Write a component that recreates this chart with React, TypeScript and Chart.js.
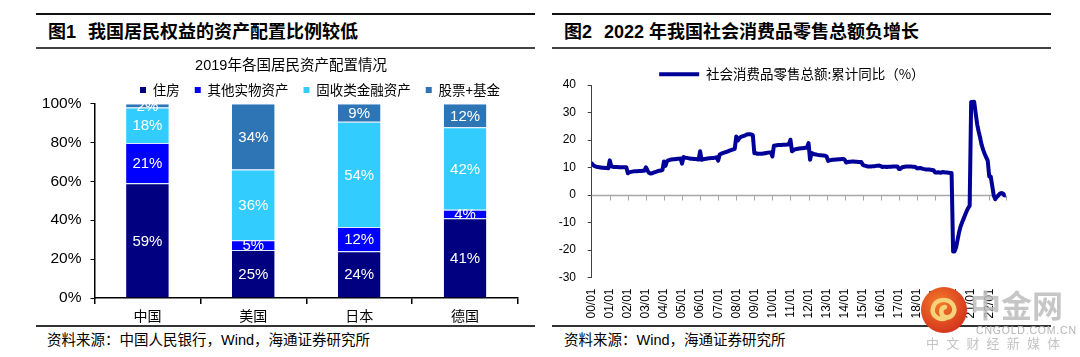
import React, { useEffect, useRef } from "react";
import { Chart, registerables } from "chart.js";

Chart.register(...registerables);

const LATIN = "'Liberation Sans', 'Noto Sans CJK SC', sans-serif";
const CJK = "'Noto Sans CJK SC', 'Liberation Sans', sans-serif";

// ---------- Figure 1 data ----------
const countries = ["中国", "美国", "日本", "德国"];
const assetNames = ["住房", "其他实物资产", "固收类金融资产", "股票+基金"];
const housing = [59.0, 24.7, 24.1, 41.0];
const otherPhysical = [20.7, 5.0, 12.4, 4.4];
const fixedIncome = [18.2, 36.4, 54.1, 42.4];
const equityFunds = [2.1, 33.9, 9.4, 12.2];
const assetColors = ["#000080", "#0000FF", "#33CCFF", "#2E75B6"];

// ---------- Figure 2 data (monthly cumulative YoY, %) ----------
const yearLabels = [
  "00/01", "01/01", "02/01", "03/01", "04/01", "05/01", "06/01", "07/01",
  "08/01", "09/01", "10/01", "11/01", "12/01", "13/01", "14/01", "15/01",
  "16/01", "17/01", "18/01", "19/01", "20/01", "21/01", "22/01",
];
const retail2000 = [11.5, 10.9, 10.5, 10.3, 10.2, 10.1, 10.0, 9.9, 9.9, 9.8, 9.8, 9.7];
const retail2001 = [12.6, 10.4, 10.3, 10.2, 10.2, 10.2, 10.1, 10.1, 10.1, 10.1, 10.1, 10.1];
const retail2002 = [7.9, 8.3, 8.4, 8.5, 8.6, 8.6, 8.6, 8.7, 8.7, 8.7, 8.8, 8.8];
const retail2003 = [10.1, 9.0, 8.1, 7.8, 7.9, 8.1, 8.3, 8.5, 8.7, 8.8, 8.9, 9.1];
const retail2004 = [12.2, 10.6, 12.3, 12.6, 12.8, 12.9, 13.0, 13.0, 13.1, 13.2, 13.2, 13.3];
const retail2005 = [11.4, 13.8, 13.6, 13.5, 13.4, 13.3, 13.2, 13.2, 13.1, 13.1, 13.0, 12.9];
const retail2006 = [15.9, 12.8, 13.0, 13.1, 13.2, 13.3, 13.4, 13.4, 13.5, 13.5, 13.6, 13.7];
const retail2007 = [12.5, 14.7, 15.0, 15.2, 15.4, 15.6, 15.8, 16.0, 16.2, 16.4, 16.6, 16.8];
const retail2008 = [21.3, 19.8, 20.6, 21.1, 21.3, 21.5, 21.7, 22.0, 22.1, 22.1, 22.0, 21.8];
const retail2009 = [15.2, 15.2, 15.0, 15.0, 15.0, 15.0, 15.1, 15.2, 15.3, 15.4, 15.5, 15.5];
const retail2010 = [14.0, 17.9, 18.0, 18.1, 18.2, 18.2, 18.2, 18.3, 18.3, 18.3, 18.4, 18.4];
const retail2011 = [20.1, 15.9, 16.3, 16.6, 16.7, 16.8, 16.9, 17.0, 17.0, 17.1, 17.2, 17.3];
const retail2012 = [18.9, 12.8, 15.3, 15.0, 14.8, 14.7, 14.6, 14.5, 14.5, 14.4, 14.4, 14.3];
const retail2013 = [14.0, 12.4, 12.6, 12.7, 12.8, 12.8, 12.9, 12.9, 13.0, 13.0, 13.1, 13.1];
const retail2014 = [12.9, 11.8, 12.0, 12.1, 12.1, 12.2, 12.2, 12.1, 12.1, 12.0, 12.0, 12.0];
const retail2015 = [11.0, 10.7, 10.6, 10.4, 10.4, 10.4, 10.4, 10.5, 10.5, 10.6, 10.6, 10.7];
const retail2016 = [10.5, 10.2, 10.3, 10.3, 10.2, 10.3, 10.3, 10.3, 10.4, 10.4, 10.4, 10.4];
const retail2017 = [9.5, 9.5, 10.0, 10.2, 10.3, 10.4, 10.4, 10.4, 10.4, 10.3, 10.3, 10.2];
const retail2018 = [9.7, 9.7, 9.8, 9.7, 9.5, 9.4, 9.3, 9.3, 9.3, 9.2, 9.1, 9.0];
const retail2019 = [8.2, 8.2, 8.3, 8.2, 8.1, 8.4, 8.3, 8.2, 8.2, 8.1, 8.0, 8.0];
const retail2020 = [-20.5, -20.5, -19.0, -16.2, -13.5, -11.4, -9.9, -8.6, -7.2, -5.9, -4.8, -3.9];
const retail2021 = [33.8, 33.8, 33.9, 29.6, 25.7, 23.0, 20.7, 18.1, 16.4, 14.9, 13.7, 12.5];
const retail2022 = [6.7, 6.7, 3.3, -0.2, -1.5, -0.7, -0.2, 0.5, 0.7, 0.6, -0.1, -0.2];
const retailYears = [
  retail2000, retail2001, retail2002, retail2003, retail2004, retail2005,
  retail2006, retail2007, retail2008, retail2009, retail2010, retail2011,
  retail2012, retail2013, retail2014, retail2015, retail2016, retail2017,
  retail2018, retail2019, retail2020, retail2021, retail2022,
];
const retailLabel = "社会消费品零售总额:累计同比（%）";
const lineColor = "#000099";

function boxTweaks(legendHeight: number, legendDx: number, titleDx: number) {
  return {
    id: "boxTweaks",
    beforeInit(chart: any) {
      const legend = chart.legend;
      if (legend) {
        const fit = legend.fit;
        legend.fit = function () {
          fit.call(this);
          this.height = legendHeight;
        };
      }
    },
    afterLayout(chart: any) {
      if (chart.legend) {
        chart.legend.left += legendDx;
        chart.legend.right += legendDx;
      }
      if (chart.titleBlock) {
        chart.titleBlock.left += titleDx;
        chart.titleBlock.right += titleDx;
      }
    },
  };
}

const barLabels = {
  id: "barLabels",
  afterDatasetsDraw(chart: any) {
    const { ctx } = chart;
    ctx.save();
    ctx.fillStyle = "#ffffff";
    ctx.font = `15px ${LATIN}`;
    ctx.textAlign = "center";
    ctx.textBaseline = "middle";
    chart.data.datasets.forEach((ds: any, i: number) => {
      const meta = chart.getDatasetMeta(i);
      meta.data.forEach((bar: any, j: number) => {
        const v = ds.data[j] as number;
        const cy = (bar.y + bar.base) / 2;
        ctx.fillText(Math.round(v) + "%", bar.x, cy + 1);
      });
    });
    ctx.restore();
  },
};

const zeroAxis = {
  id: "zeroAxis",
  beforeDatasetsDraw(chart: any) {
    const { ctx } = chart;
    const x = chart.scales.x;
    const y = chart.scales.y;
    const y0 = Math.round(y.getPixelForValue(0)) + 0.5;
    const ticks = x.ticks.map((t: any) => t.value);
    const last = ticks[ticks.length - 1];
    ctx.save();
    ctx.strokeStyle = "#a6a6a6";
    ctx.lineWidth = 1.5;
    ctx.beginPath();
    ctx.moveTo(x.getPixelForValue(0), y0);
    ctx.lineTo(x.getPixelForValue(last), y0);
    ctx.stroke();
    ctx.lineWidth = 1;
    ticks.forEach((v: number) => {
      if (v === 0) return;
      const px = Math.round(x.getPixelForValue(v)) + 0.5;
      ctx.beginPath();
      ctx.moveTo(px, y0);
      ctx.lineTo(px, y0 + 5);
      ctx.stroke();
    });
    ctx.restore();
  },
};

function AllocationChart() {
  const ref = useRef<HTMLCanvasElement>(null);
  useEffect(() => {
    const series = [housing, otherPhysical, fixedIncome, equityFunds];
    const chart = new Chart(ref.current as HTMLCanvasElement, {
      type: "bar",
      data: {
        labels: countries,
        datasets: assetNames.map((name, i) => ({
          label: name,
          data: series[i],
          backgroundColor: assetColors[i],
          borderColor: "rgba(220,228,255,0.9)",
          borderWidth: { top: 1, bottom: 0, left: 0, right: 0 },
          borderSkipped: false,
          categoryPercentage: 1,
          barPercentage: 0.403,
        })),
      },
      options: {
        animation: false,
        responsive: false,
        events: [],
        layout: { padding: { left: 0, right: 17, top: 0, bottom: 0 } },
        plugins: {
          title: {
            display: true,
            text: "2019年各国居民资产配置情况",
            color: "#000",
            font: { size: 14.5, family: LATIN, weight: "normal" },
            padding: { top: 0, bottom: -6.15 },
          },
          legend: {
            display: true,
            position: "top",
            labels: {
              boxWidth: 6,
              boxHeight: 6,
              padding: 15,
              color: "#000",
              font: { size: 13.5, family: CJK },
              generateLabels: (c: any) =>
                Chart.defaults.plugins.legend.labels
                  .generateLabels(c)
                  .map((l: any) => ({ ...l, lineWidth: 0 })),
            },
          },
          tooltip: { enabled: false },
        },
        scales: {
          x: {
            stacked: true,
            offset: true,
            grid: {
              display: true,
              offset: true,
              drawOnChartArea: false,
              drawTicks: true,
              tickLength: 6,
              color: "#000",
              lineWidth: 1.5,
            },
            border: { display: true, color: "#000", width: 1.5 },
            ticks: { color: "#000", font: { size: 14, family: CJK }, padding: 3 },
            afterFit: (s: any) => {
              s.height = 26;
            },
          },
          y: {
            stacked: true,
            min: 0,
            max: 100,
            ticks: {
              stepSize: 20,
              callback: (v: any) => v + "%",
              color: "#000",
              font: { size: 15.5, family: LATIN },
              padding: 9,
            },
            grid: {
              display: true,
              drawOnChartArea: false,
              drawTicks: true,
              tickLength: 4,
              color: "#000",
              lineWidth: 1,
            },
            border: { display: true, color: "#000", width: 1.5 },
            afterFit: (s: any) => {
              s.width = 58.5;
            },
          },
        },
      },
      plugins: [barLabels, boxTweaks(35.25, 43, 14)],
    } as any);
    return () => chart.destroy();
  }, []);
  return (
    <canvas
      ref={ref}
      width={499}
      height={267}
      style={{ position: "absolute", left: 36, top: 57, width: 499, height: 267 }}
    />
  );
}

function RetailChart() {
  const ref = useRef<HTMLCanvasElement>(null);
  useEffect(() => {
    const monthly = retailYears.flat();
    const points = monthly.map((v, i) => ({ x: i, y: v }));
    const chart = new Chart(ref.current as HTMLCanvasElement, {
      type: "line",
      data: {
        datasets: [
          {
            label: retailLabel,
            data: points,
            borderColor: lineColor,
            backgroundColor: lineColor,
            borderWidth: 4,
            pointRadius: 0,
            tension: 0,
            fill: false,
            borderJoinStyle: "round",
            borderCapStyle: "round",
          },
        ],
      },
      options: {
        animation: false,
        responsive: false,
        events: [],
        layout: { padding: { left: 0, right: 26.2, top: 0, bottom: 0 } },
        plugins: {
          title: { display: false },
          legend: {
            display: true,
            position: "top",
            labels: {
              boxWidth: 40,
              boxHeight: 4,
              padding: 11.5,
              color: "#000",
              font: { size: 13.5, family: CJK },
              generateLabels: (c: any) =>
                Chart.defaults.plugins.legend.labels
                  .generateLabels(c)
                  .map((l: any) => ({ ...l, lineWidth: 0, fillStyle: lineColor })),
            },
          },
          tooltip: { enabled: false },
        },
        scales: {
          x: {
            type: "linear",
            bounds: "data",
            min: 0,
            max: monthly.length - 1,
            grid: { display: false, drawTicks: false },
            border: { display: false },
            ticks: {
              stepSize: 12,
              includeBounds: false,
              autoSkip: false,
              minRotation: 90,
              maxRotation: 90,
              padding: 11,
              color: "#000",
              font: { size: 12, family: LATIN },
              callback: (v: any) => {
                const k = Number(v) / 12;
                return Number.isInteger(k) && k < yearLabels.length ? yearLabels[k] : "";
              },
            },
            afterFit: (s: any) => {
              s.height = 46.5;
            },
          },
          y: {
            min: -30,
            max: 40,
            ticks: {
              stepSize: 10,
              color: "#000",
              font: { size: 12, family: LATIN },
              padding: 11.7,
            },
            grid: {
              display: true,
              drawOnChartArea: false,
              drawTicks: true,
              tickLength: 4,
              color: "#404040",
            },
            border: { display: true, color: "#404040", width: 1 },
            afterFit: (s: any) => {
              s.width = 39.7;
            },
          },
        },
      },
      plugins: [zeroAxis, boxTweaks(29, 13, 0)],
    } as any);
    return () => chart.destroy();
  }, []);
  return (
    <canvas
      ref={ref}
      width={480}
      height={268}
      style={{ position: "absolute", left: 552, top: 56, width: 480, height: 268 }}
    />
  );
}

const rule = (left: number, top: number, width: number, h: number, color: string) => (
  <div style={{ position: "absolute", left, top, width, height: h, background: color }} />
);

const textStyle = (left: number, top: number, size: number, extra: any = {}) => ({
  position: "absolute" as const,
  left,
  top,
  fontSize: size,
  lineHeight: `${size}px`,
  whiteSpace: "nowrap" as const,
  color: "#000",
  fontFamily: LATIN,
  ...extra,
});

export default function App() {
  return (
    <div
      style={{
        position: "absolute",
        left: 0,
        top: 0,
        width: 1080,
        height: 357,
        background: "#fff",
        overflow: "hidden",
      }}
    >
      {/* Left panel */}
      {rule(36, 13, 499, 2, "#111")}
      <div style={textStyle(48, 23, 18, { fontWeight: 700 })}>图1</div>
      <div style={textStyle(88, 23, 18, { fontWeight: 700 })}>我国居民权益的资产配置比例较低</div>
      {rule(36, 47, 499, 2, "#444")}
      <AllocationChart />
      {rule(36, 325, 499, 1.5, "#333")}
      <div style={textStyle(47, 333, 14.5)}>资料来源：中国人民银行，Wind，海通证券研究所</div>

      {/* Right panel */}
      {rule(552, 13, 499, 2, "#111")}
      <div style={textStyle(564, 23, 18, { fontWeight: 700 })}>图2</div>
      <div style={textStyle(604, 23, 18, { fontWeight: 700 })}>2022 年我国社会消费品零售总额负增长</div>
      {rule(552, 47, 499, 2, "#444")}
      <RetailChart />
      {rule(552, 325, 499, 1.5, "#333")}
      <div style={textStyle(564, 333, 14.5)}>资料来源：Wind，海通证券研究所</div>

      {/* Watermark */}
      <svg
        width={52}
        height={52}
        style={{ position: "absolute", left: 918, top: 284 }}
        viewBox="0 0 52 52"
      >
        <defs>
          <radialGradient id="wm" cx="40%" cy="35%" r="70%">
            <stop offset="0%" stopColor="#f47a2a" />
            <stop offset="100%" stopColor="#d2311c" />
          </radialGradient>
        </defs>
        <circle cx={26} cy={26} r={23} fill="url(#wm)" />
        <path
          d="M30 33 C 22 38, 13 32, 15 24 C 17 15, 30 13, 35 21 C 39 28, 33 35, 27 33 C 22 31, 22 24, 27 23"
          stroke="#f6d27a"
          strokeWidth={4.5}
          fill="none"
          strokeLinecap="round"
        />
      </svg>
      <div
        style={textStyle(970, 288, 31, {
          fontFamily: CJK,
          fontWeight: 700,
          color: "#bdbdbd",
          opacity: 0.85,
          letterSpacing: 0,
        })}
      >
        中金网
      </div>
      <div style={textStyle(976, 325, 10.5, { color: "#b5b5b5", letterSpacing: 0.8 })}>
        CNGOLD.COM.CN
      </div>
      <div style={textStyle(926, 336, 13, { fontFamily: CJK, color: "#c4c4c4", letterSpacing: 7.2 })}>
        中文财经新媒体
      </div>
    </div>
  );
}
